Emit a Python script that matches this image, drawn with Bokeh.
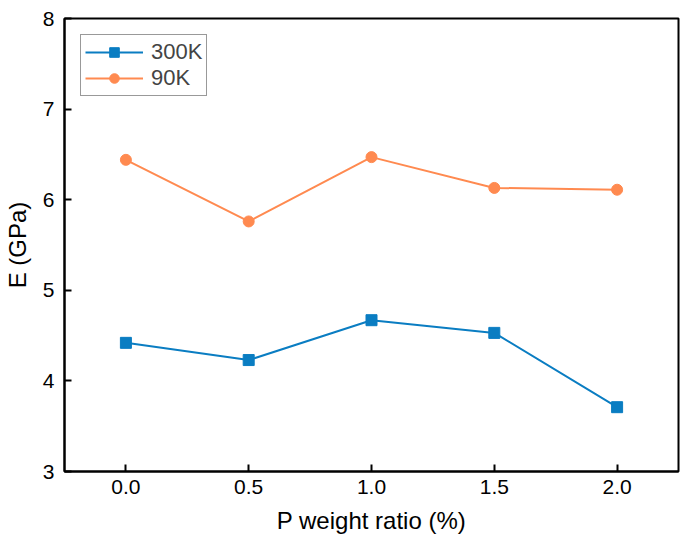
from bokeh.plotting import figure
from bokeh.embed import file_html
from bokeh.resources import INLINE
from bokeh.models import Range1d, FixedTicker, Legend, LegendItem

x_vals = [0.0, 0.5, 1.0, 1.5, 2.0]
e_300k = [4.42, 4.23, 4.67, 4.53, 3.71]
e_90k = [6.44, 5.76, 6.47, 6.13, 6.11]
x_ticks = [0.0, 0.5, 1.0, 1.5, 2.0]
y_ticks = [3, 4, 5, 6, 7, 8]

BLUE = "#0A7DC2"
ORANGE = "#FF8A50"
FONT = "Liberation Sans"

p = figure(width=681, height=541, output_backend="svg", toolbar_location=None,
           x_range=Range1d(-0.25, 2.25), y_range=Range1d(3, 8),
           min_border_left=62, min_border_right=3, min_border_top=18, min_border_bottom=70)

p.grid.visible = False
p.outline_line_color = "black"
p.outline_line_width = 2
p.background_fill_color = "white"
p.border_fill_color = "white"

for ax in (p.xaxis[0], p.yaxis[0]):
    ax.axis_line_width = 2
    ax.axis_line_color = "black"
    ax.major_tick_in = 7
    ax.major_tick_out = 0
    ax.major_tick_line_width = 2
    ax.minor_tick_line_color = None
    ax.major_label_text_font = FONT
    ax.major_label_text_font_size = "21px"
    ax.major_label_text_color = "black"
    ax.axis_label_text_font = FONT
    ax.axis_label_text_font_size = "24px"
    ax.axis_label_text_font_style = "normal"
    ax.axis_label_text_color = "black"

p.xaxis.ticker = FixedTicker(ticks=x_ticks)
p.yaxis.ticker = FixedTicker(ticks=y_ticks)
p.xaxis.major_label_overrides = {t: f"{t:.1f}" for t in x_ticks}
p.yaxis.major_label_overrides = {t: str(t) for t in y_ticks}
p.xaxis.major_label_standoff = 8
p.yaxis.major_label_standoff = 10
p.xaxis.axis_label = "P weight ratio (%)"
p.yaxis.axis_label = "E (GPa)"
p.xaxis.axis_label_standoff = 10
p.yaxis.axis_label_standoff = 9

l1 = p.line(x_vals, e_300k, line_color=BLUE, line_width=2)
m1 = p.scatter(x_vals, e_300k, marker="square", size=11, fill_color=BLUE, line_color=BLUE)
l2 = p.line(x_vals, e_90k, line_color=ORANGE, line_width=2)
m2 = p.scatter(x_vals, e_90k, marker="circle", size=11, fill_color=ORANGE, line_color=ORANGE)

legend = Legend(items=[LegendItem(label="300K", renderers=[l1, m1]),
                       LegendItem(label="90K", renderers=[l2, m2])],
                location="top_left")
legend.margin = 16
legend.padding = 4
legend.spacing = 0
legend.glyph_width = 58
legend.glyph_height = 24
legend.label_text_font = FONT
legend.label_text_font_size = "22px"
legend.label_standoff = 8
legend.border_line_color = "#333333"
legend.border_line_width = 1
legend.background_fill_alpha = 1
p.add_layout(legend)

open("out.html", "w").write(file_html(p, INLINE))
